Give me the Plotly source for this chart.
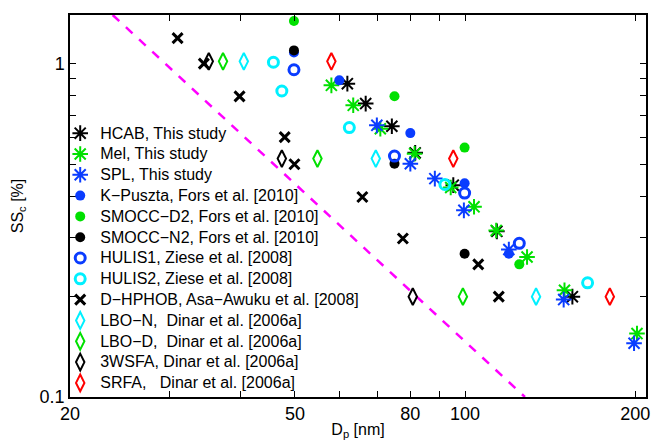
import plotly.graph_objects as go

# ---- data ----
hcab_x = [61.9, 66.7, 74.2, 81.6, 95.3, 113.8, 154.8]
hcab_y = [0.871, 0.759, 0.649, 0.54, 0.432, 0.314, 0.2]

mel_x = [58.0, 63.4, 70.8, 81.4, 94.3, 103.7, 113.5, 128.7, 149.9, 201.4]
mel_y = [0.861, 0.75, 0.638, 0.537, 0.425, 0.372, 0.316, 0.263, 0.209, 0.155]

spl_x = [69.8, 80.0, 88.4, 99.5, 119.5, 149.4, 199.0]
spl_y = [0.653, 0.501, 0.452, 0.363, 0.277, 0.196, 0.145]

kp_x = [49.8, 59.9, 80.0, 99.8, 119.5]
kp_y = [1.08, 0.891, 0.619, 0.438, 0.269]

d2_x = [49.8, 75.0, 99.8, 124.7]
d2_y = [1.342, 0.798, 0.56, 0.25]

n2_x = [49.8, 75.0, 99.8]
n2_y = [1.096, 0.501, 0.269]

hulis1_x = [49.8, 75.0, 99.8, 124.7]
hulis1_y = [0.959, 0.528, 0.409, 0.289]

hulis2_x = [45.8, 47.4, 62.4, 92.1, 164.7]
hulis2_y = [1.01, 0.828, 0.643, 0.434, 0.22]

dhphob_x = [31.0, 34.5, 39.9, 47.96, 49.9, 65.8, 77.6, 105.5, 114.7]
dhphob_y = [1.193, 1.0, 0.798, 0.602, 0.499, 0.398, 0.299, 0.25, 0.2]

lbon_x = [40.6, 69.5, 133.5]
lbon_y = [1.016, 0.519, 0.2]

lbod_x = [37.3, 54.8, 99.1]
lbod_y = [1.016, 0.519, 0.2]

wsfa_x = [35.2, 47.4, 80.8]
wsfa_y = [1.016, 0.519, 0.2]

srfa_x = [58.0, 95.3, 180.3]
srfa_y = [1.016, 0.519, 0.2]

line_x = [23.8, 127.6]
line_y = [1.4, 0.1]

x_ticks = [20, 30, 40, 50, 60, 70, 80, 90, 100, 200]
x_ticktext = ['20', '', '', '50', '', '', '80', '', '100', '200']
y_ticks = [0.1, 0.2, 0.3, 0.4, 0.5, 0.6, 0.7, 0.8, 0.9, 1.0]
y_ticktext = ['0.1', '', '', '', '', '', '', '', '', '1']

BLACK = '#000000'
GREEN = '#00e000'
BLUE = '#0a3cff'
CYAN = '#00f0ff'
RED = '#ff0000'
NB = '\u00a0'

fig = go.Figure()
fig.add_trace(go.Scatter(x=line_x, y=line_y, mode='lines', showlegend=False,
                         line=dict(color='#ff00ff', width=2.5, dash='dash')))

def lbl(s):
    return '<span style="font-size:16px">' + s + '</span>'

def add(x, y, name, symbol, color, size, lw, filled=False):
    if filled:
        marker = dict(symbol=symbol, color=color, size=size, line=dict(width=0))
    else:
        marker = dict(symbol=symbol, color=color, size=size,
                      line=dict(color=color, width=lw))
    fig.add_trace(go.Scatter(x=x, y=y, mode='markers', name=lbl(name), marker=marker))

add(hcab_x, hcab_y, 'HCAB, This study', 'asterisk-open', BLACK, 13, 2)
add(mel_x, mel_y, 'Mel, This study', 'asterisk-open', GREEN, 13, 2)
add(spl_x, spl_y, 'SPL, This study', 'asterisk-open', BLUE, 13, 2)
add(kp_x, kp_y, 'K\u2212Puszta, Fors et al. [2010]', 'circle', BLUE, 10, 0, True)
add(d2_x, d2_y, 'SMOCC\u2212D2, Fors et al. [2010]', 'circle', GREEN, 10, 0, True)
add(n2_x, n2_y, 'SMOCC\u2212N2, Fors et al. [2010]', 'circle', BLACK, 10, 0, True)
add(hulis1_x, hulis1_y, 'HULIS1, Ziese et al. [2008]', 'circle-open', BLUE, 10, 3)
add(hulis2_x, hulis2_y, 'HULIS2, Ziese et al. [2008]', 'circle-open', CYAN, 10, 3)
add(dhphob_x, dhphob_y, 'D\u2212HPHOB, Asa\u2212Awuku et al. [2008]', 'x-thin-open', BLACK, 10, 3)
add(lbon_x, lbon_y, 'LBO\u2212N,' + NB + ' Dinar et al. [2006a]', 'diamond-tall-open', CYAN, 12, 2)
add(lbod_x, lbod_y, 'LBO\u2212D,' + NB + ' Dinar et al. [2006a]', 'diamond-tall-open', GREEN, 12, 2)
add(wsfa_x, wsfa_y, '3WSFA, Dinar et al. [2006a]', 'diamond-tall-open', BLACK, 12, 2)
add(srfa_x, srfa_y, 'SRFA,' + NB + NB + ' Dinar et al. [2006a]', 'diamond-tall-open', RED, 12, 2)

axis_common = dict(type='log', showgrid=False, zeroline=False, showline=True,
                   linecolor='black', linewidth=1.5, mirror='ticks',
                   ticks='inside', ticklen=6, tickwidth=1, tickcolor='black',
                   tickfont=dict(size=18, color='black'))

fig.update_layout(
    width=654, height=443,
    margin=dict(l=70, r=4, t=15, b=46),
    paper_bgcolor='white', plot_bgcolor='white',
    font=dict(family='Liberation Sans, Arial, sans-serif', size=16, color='black'),
    xaxis=dict(range=[1.30103, 2.32], tickvals=x_ticks, ticktext=x_ticktext,
               title=dict(text='D<sub>p</sub> [nm]', font=dict(size=16), standoff=0),
               **axis_common),
    yaxis=dict(range=[-1, 0.146], tickvals=y_ticks, ticktext=y_ticktext,
               automargin=True,
               title=dict(text='SS<sub>c</sub> [%]', font=dict(size=16), standoff=12),
               **axis_common),
    legend=dict(x=-0.017, y=0.731, xanchor='left', yanchor='top',
                bgcolor='rgba(0,0,0,0)', borderwidth=0,
                font=dict(size=13.7), tracegroupgap=0, itemsizing='trace'),
)

fig.write_html('out.html', config={'displayModeBar': False},
               post_script="document.body.style.margin='0px';document.body.style.overflow='hidden';")
